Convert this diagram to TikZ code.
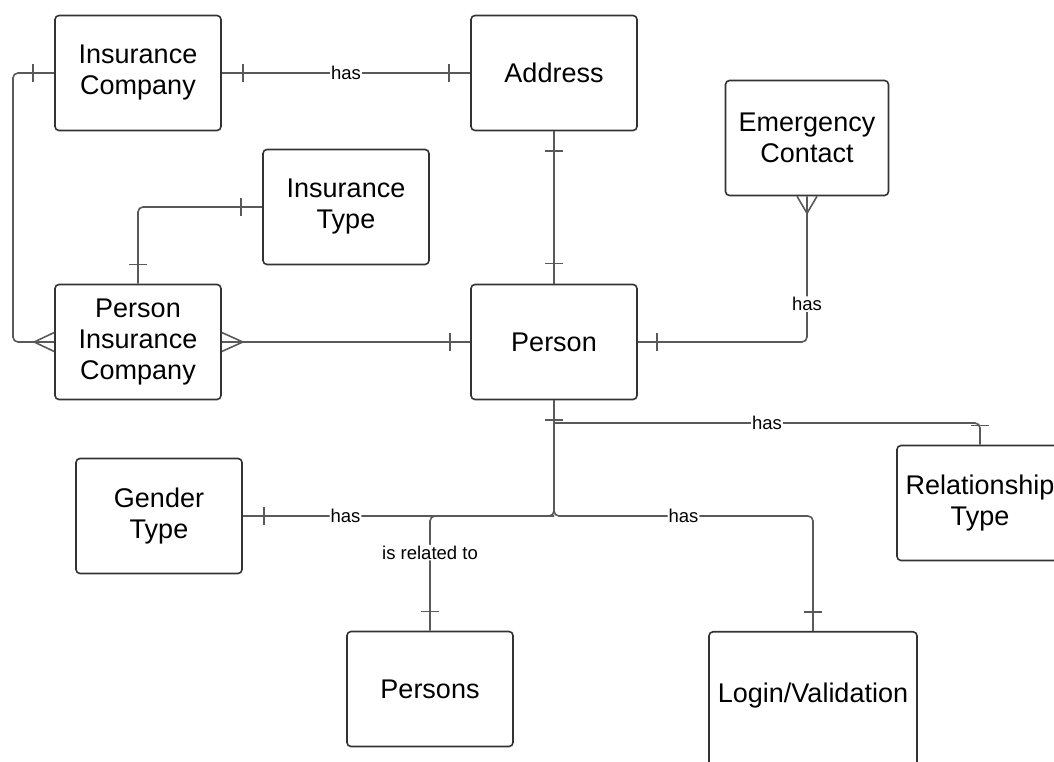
\documentclass[tikz,border=0pt]{standalone}
\usepackage{fontspec}
\setmainfont{Liberation Sans}
\begin{document}
\begin{tikzpicture}[x=1pt,y=1pt,
    entity/.style={draw=black!80, line width=1.6pt, rounded corners=4pt, fill=white,
        minimum width=166pt, minimum height=115pt, align=center, inner sep=0pt,
        font=\fontsize{27}{31}\selectfont},
    conn/.style={draw=black!65, line width=1.6pt},
    lbl/.style={fill=white, inner sep=1pt, font=\fontsize{18.5}{20}\selectfont}]
            \clip (0,0) rectangle (1054,762);

            % Define the entities
            \node[entity] (ic) at (138,689) {Insurance\\Company};
            \node[entity] (addr) at (554,689) {Address};
            \node[entity, minimum width=163pt] (ec) at (807,624) {Emergency\\Contact};
            \node[entity] (it) at (346,555) {Insurance\\Type};
            \node[entity] (pic) at (138,420) {Person\\Insurance\\Company};
            \node[entity] (person) at (554,420) {Person};
            \node[entity] (gt) at (159,246) {Gender\\Type};
            \node[entity] (rt) at (980,259) {Relationship\\Type};
            \node[entity] (persons) at (430,73) {Persons};
            \node[entity, minimum width=208pt, anchor=north, text height=71pt, text depth=79pt]
                (login) at (813,131) {Login/Validation};

            % Define the bend points
            \coordinate (lft) at (13,554);
            \coordinate (rtj) at (554,339);
            \coordinate (hub) at (554,246);

            % Draw relations
            \draw[conn] (ic.east) -- node[lbl] {has} (addr.west);
            \draw[conn] (addr.south) -- (person.north);
            \draw[conn, rounded corners=5pt] (ic.west) -| (lft) |- (pic.west);
            \draw[conn, rounded corners=5pt] (it.west) -| (pic.north);
            \draw[conn] (pic.east) -- (person.west);
            \draw[conn, rounded corners=5pt] (person.east) -| node[lbl, pos=0.63] {has} (ec.south);
            \draw[conn] (person.south) -- (rtj);
            \draw[conn, rounded corners=5pt] (rtj) -| node[lbl, pos=0.25] {has} (rt.north);
            \draw[conn, rounded corners=5pt] (rtj) -- (hub) -- node[lbl, pos=0.67] {has} (gt.east);
            \draw[conn, rounded corners=5pt] (rtj) -- (hub) -| node[lbl, pos=0.25] {has} (login.north);
            \draw[conn, rounded corners=5pt] (hub) -| node[lbl, pos=0.66] {is related to} (persons.north);

            % Draw one marks
            \draw[conn] ([shift={(21,-9)}]ic.east) -- ([shift={(21,9)}]ic.east);
            \draw[conn] ([shift={(-21,-9)}]addr.west) -- ([shift={(-21,9)}]addr.west);
            \draw[conn] ([shift={(-9,-20)}]addr.south) -- ([shift={(9,-20)}]addr.south);
            \draw[conn] ([shift={(-9,20)}]person.north) -- ([shift={(9,20)}]person.north);
            \draw[conn] ([shift={(-21,-9)}]ic.west) -- ([shift={(-21,9)}]ic.west);
            \draw[conn] ([shift={(-21,-9)}]it.west) -- ([shift={(-21,9)}]it.west);
            \draw[conn] ([shift={(-9,19)}]pic.north) -- ([shift={(9,19)}]pic.north);
            \draw[conn] ([shift={(-20,-9)}]person.west) -- ([shift={(-20,9)}]person.west);
            \draw[conn] ([shift={(19,-9)}]person.east) -- ([shift={(19,9)}]person.east);
            \draw[conn] ([shift={(-9,-20)}]person.south) -- ([shift={(9,-20)}]person.south);
            \draw[conn] ([shift={(-9,19)}]rt.north) -- ([shift={(9,19)}]rt.north);
            \draw[conn] ([shift={(21,-9)}]gt.east) -- ([shift={(21,9)}]gt.east);
            \draw[conn] ([shift={(-9,19)}]persons.north) -- ([shift={(9,19)}]persons.north);
            \draw[conn] ([shift={(-9,19)}]login.north) -- ([shift={(9,19)}]login.north);

            % Draw many marks
            \draw[conn] ([yshift=9.5pt]pic.west) -- ([xshift=-20pt]pic.west) -- ([yshift=-9.5pt]pic.west);
            \draw[conn] ([yshift=9.5pt]pic.east) -- ([xshift=21pt]pic.east) -- ([yshift=-9.5pt]pic.east);
            \draw[conn] ([xshift=-10pt]ec.south) -- ([yshift=-17pt]ec.south) -- ([xshift=10pt]ec.south);
\end{tikzpicture}
\end{document}
